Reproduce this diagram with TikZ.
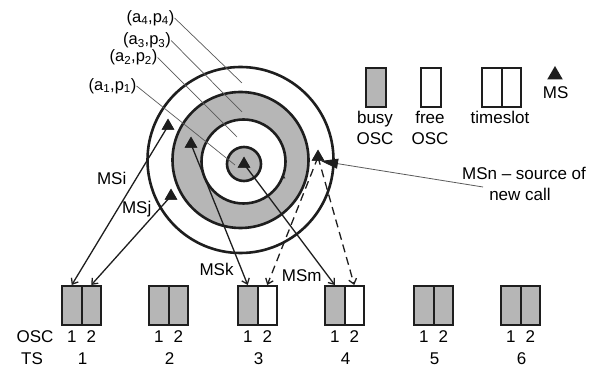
\documentclass[tikz,border=0pt]{standalone}
\usepackage{fontspec}
\setmainfont{Liberation Sans}
\usetikzlibrary{arrows.meta,shapes.geometric}
\definecolor{busygray}{RGB}{182,182,182}
\definecolor{ink}{RGB}{30,30,30}
\definecolor{leadgray}{RGB}{90,90,90}
\begin{document}
\begin{tikzpicture}[x=1pt,y=-1pt,
  font=\fontsize{17}{19}\selectfont,
  ring/.style={circle,draw=ink,line width=2.6pt,inner sep=0pt},
  ms/.style={regular polygon,regular polygon sides=3,fill=ink,inner sep=0pt,minimum size=14.5pt},
  half/.style={rectangle,draw=ink,line width=2pt,minimum width=19.5pt,minimum height=39pt,inner sep=0pt,anchor=north west},
  busy/.style={half,fill=busygray},
  free/.style={half,fill=white},
  txt/.style={inner sep=0pt,anchor=base},
  lbl/.style={inner sep=0pt,font=\fontsize{16.5}{18}\selectfont},
  lead/.style={draw=leadgray,line width=0.7pt},
  call/.style={draw=ink,line width=1.3pt,-{Straight Barb[length=5pt,width=8pt]}},
  newcall/.style={call,dash pattern=on 8pt off 5pt},
]
\useasboundingbox (0,0) rectangle (603,374);
\fill[white] (0,0) rectangle (603,374);

% concentric zones
\node[ring,fill=white,minimum size=186pt] (c4) at (240.5,160) {};
\node[ring,fill=busygray,minimum size=136pt] (c3) at (240.5,160) {};
\node[ring,fill=white,minimum size=84pt] (c2) at (243.5,161.5) {};
\node[ring,fill=busygray,minimum size=34pt] (c1) at (244,164) {};

% zone labels
\node[lbl] (a4) at (150.5,18) {(a\textsubscript{4},p\textsubscript{4})};
\node[lbl] (a3) at (147,40.5) {(a\textsubscript{3},p\textsubscript{3})};
\node[lbl] (a2) at (133.5,57.5) {(a\textsubscript{2},p\textsubscript{2})};
\node[lbl] (a1) at (112.5,86) {(a\textsubscript{1},p\textsubscript{1})};
\coordinate (e4) at (242,83);
\coordinate (e3) at (242,112);
\coordinate (e2) at (237,137);
\coordinate (e1) at (235,165);
\draw[lead] (a4.east) -- (e4);
\draw[lead] (a3.east) -- (e3);
\draw[lead] (a2.east) -- (e2);
\draw[lead] (a1.east) -- (e1);

% timeslots
\node[busy] (s1a) at (61,285) {};   \node[busy] (s1b) at (80.5,285) {};
\node[busy] (s2a) at (148,285) {};  \node[busy] (s2b) at (167.5,285) {};
\node[busy] (s3a) at (237,285) {};  \node[free] (s3b) at (256.5,285) {};
\node[busy] (s4a) at (324,285) {};  \node[free] (s4b) at (343.5,285) {};
\node[busy] (s5a) at (413,285) {};  \node[busy] (s5b) at (432.5,285) {};
\node[busy] (s6a) at (500,285) {};  \node[busy] (s6b) at (519.5,285) {};

\node[txt] (osc) at (35,342.7) {OSC};
\node[txt] (ts) at (32,365) {TS};
\foreach \s/\n in {s1/1,s2/2,s3/3,s4/4,s5/5,s6/6}{
  \node[txt] at (\s a.center |- osc.base) {1};
  \node[txt] at (\s b.center |- osc.base) {2};
  \path (\s a.north east) -- (\s a.south east) coordinate[pos=0] (\s top);
  \node[txt] at (\s top |- ts.base) {\n};
}

% mobile stations
\node[ms] (msi) at (168,126) {};
\node[ms] (msj) at (171,196) {};
\node[ms] (msk) at (191,144) {};
\node[ms] (msm) at (244,164) {};
\node[ms] (msn) at (318,157) {};
\node[regular polygon,regular polygon sides=3,fill=ink,inner sep=0pt,minimum size=5.5pt] (tick) at (283,177) {};

% connections
\draw[call] (msi.center) -- (s1a.north);
\draw[call] (msj.center) -- (s1b.north);
\draw[call] (msk.center) -- (s3a.north);
\draw[call] (msm.center) -- (s4a.north);
\draw[newcall] (msn.center) -- (s3b.north);
\draw[newcall] (msn.center) -- (s4b.north);
\node[ms] at (msi) {};
\node[ms] at (msj) {};
\node[ms] at (msk) {};
\node[ms] at (msm) {};
\node[ms] at (msn) {};

\node[txt] (lmsi) at (111.7,185) {MSi};
\node[txt] (lmsj) at (136.7,214) {MSj};
\node[txt] (lmsk) at (216.5,276) {MSk};
\node[txt] (lmsm) at (301.7,281.7) {MSm};

% new call source
\node[txt] (ncl1) at (524,179.3) {MSn -- source of};
\node[txt] (ncl2) at (520,201) {new call};
\coordinate (msnl) at (483,187);
\coordinate (msntip) at (321,161);
\draw[draw=leadgray,line width=0.8pt,-{Triangle[length=17pt,width=10pt,fill=ink,color=ink]}] (msnl) -- (msntip);

% legend
\node[busy] (lb) at (365,67) {};
\node[free] (lf) at (420,67) {};
\node[free] (lt1) at (481,67) {};
\node[free] (lt2) at (500.5,67) {};
\node[ms,minimum size=18pt] (lms) at (555,75) {};
\node[txt] at (375,123.3) {busy};
\node[txt] at (375,144.5) {OSC};
\node[txt] at (430,123.3) {free};
\node[txt] at (430,144.5) {OSC};
\node[txt] at (500,123.3) {timeslot};
\node[txt] at (555.6,98.3) {MS};
\end{tikzpicture}
\end{document}
